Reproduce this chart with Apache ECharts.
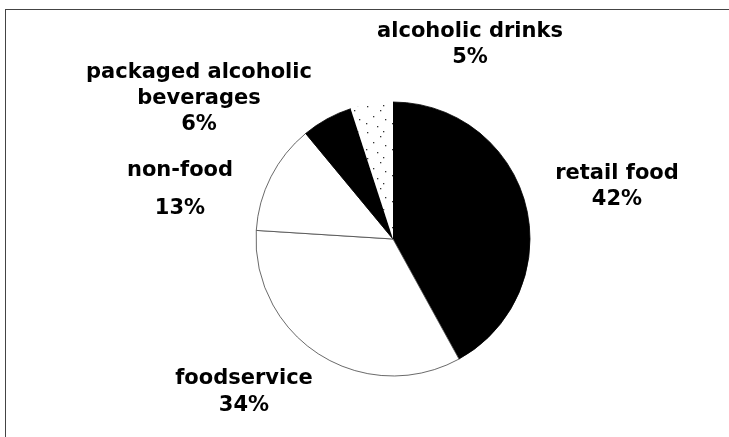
<!DOCTYPE html>
<html>
<head>
<meta charset="utf-8">
<script src="https://cdn.jsdelivr.net/npm/echarts@6/dist/echarts.min.js"></script>
<style>
  html, body { margin: 0; padding: 0; background: #fff; }
  #chart { width: 729px; height: 437px; }
</style>
</head>
<body>
<div id="chart"></div>
<script>
// Share of spending by channel (percent), clockwise from 12 o'clock
const categories = ['retail food', 'foodservice', 'non-food', 'packaged alcoholic\nbeverages', 'alcoholic drinks'];
const shares = [42, 34, 13, 6, 5];

// Label anchor (centre of each text block) in pixels, and line spacing
const labelCentres = [[617, 187], [244, 392], [180, 190], [199, 99], [470, 45]];
const labelLineHeights = [26, 27, 38, 26, 26];

// Sparse stipple used for the small alcoholic-drinks wedge
function stipple() {
  const c = document.createElement('canvas');
  c.width = 26; c.height = 26;
  const g = c.getContext('2d');
  g.fillStyle = '#fff';
  g.fillRect(0, 0, 26, 26);
  g.fillStyle = '#333';
  [[3, 2], [16, 6], [9, 12], [21, 15], [2, 19], [13, 22], [19, 1]].forEach(p => g.fillRect(p[0], p[1], 1.3, 1.3));
  return c;
}

const fills = ['#000', '#fff', '#fff', '#000', { image: stipple(), repeat: 'repeat' }];
const borders = ['#000', '#444', '#444', '#000', '#fff'];

const chart = echarts.init(document.getElementById('chart'), null, { renderer: 'canvas' });

chart.setOption({
  animation: false,
  backgroundColor: '#fff',
  graphic: [
    { type: 'line', shape: { x1: 5, y1: 9.5, x2: 729, y2: 9.5 }, style: { stroke: '#444', lineWidth: 1 } },
    { type: 'line', shape: { x1: 5.5, y1: 9, x2: 5.5, y2: 437 }, style: { stroke: '#444', lineWidth: 1 } }
  ],
  series: [{
    type: 'pie',
    center: [393, 239],
    radius: 137,
    startAngle: 90,
    clockwise: true,
    silent: true,
    emphasis: { disabled: true },
    data: categories.map((name, i) => ({
      name,
      value: shares[i],
      itemStyle: { color: fills[i], borderColor: borders[i], borderWidth: i === 4 ? 0 : 0.8 },
      label: { lineHeight: labelLineHeights[i] }
    })),
    label: {
      show: true,
      position: 'inside',
      overflow: 'none',
      formatter: p => p.name + '\n' + p.value + '%',
      fontFamily: 'DejaVu Sans, sans-serif',
      fontWeight: 'bold',
      fontSize: 21,
      color: '#000',
      align: 'center'
    },
    labelLine: { show: false },
    labelLayout: params => ({
      x: labelCentres[params.dataIndex][0],
      y: labelCentres[params.dataIndex][1],
      align: 'center',
      verticalAlign: 'middle'
    })
  }]
});
</script>
</body>
</html>
